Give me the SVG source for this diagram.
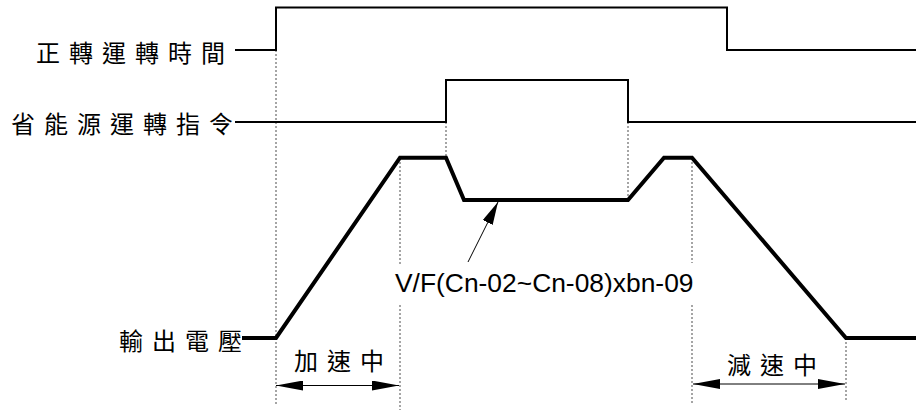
<svg xmlns="http://www.w3.org/2000/svg" width="916" height="410" viewBox="0 0 916 410">
<style>
.sig{fill:none;stroke:#000;stroke-width:2}
.vout{fill:none;stroke:#000;stroke-width:4;stroke-linejoin:miter}
.dot{fill:none;stroke:#888;stroke-width:1.5;stroke-dasharray:2,2}
.thin{fill:none;stroke:#000;stroke-width:1}
.cjk{font-family:"Noto Sans CJK TC","Noto Sans CJK SC",sans-serif;font-size:24px;font-weight:400;fill:#000;letter-spacing:9px}
.lat{font-family:"Liberation Sans",Arial,sans-serif;font-size:26.4px;fill:#000}
</style>
<defs>
<marker id="ah" viewBox="0 0 27 10" refX="27" refY="5" markerWidth="27" markerHeight="10" markerUnits="userSpaceOnUse" orient="auto-start-reverse">
<path d="M0,0 L27,5 L0,10 Z" fill="#000"/>
</marker>
<marker id="ah2" viewBox="0 0 23 11" refX="23" refY="5.5" markerWidth="23" markerHeight="11" markerUnits="userSpaceOnUse" orient="auto">
<path d="M0,0 L23,5.5 L0,11 Z" fill="#000"/>
</marker>
</defs>
<g id="guides">
<line class="dot" x1="276" y1="50" x2="276" y2="406"/>
<line class="dot" x1="400" y1="158" x2="400" y2="265"/>
<line class="dot" x1="400" y1="305" x2="400" y2="410"/>
<line class="dot" x1="446" y1="122" x2="446" y2="157"/>
<line class="dot" x1="628" y1="122" x2="628" y2="199"/>
<line class="dot" x1="692" y1="158" x2="692" y2="263"/>
<line class="dot" x1="692" y1="305" x2="692" y2="404"/>
<line class="dot" x1="846" y1="338" x2="846" y2="400"/>
</g>
<g id="node-run">
<text class="cjk" x="36" y="62">正轉運轉時間</text>
<path class="sig" d="M235,50 H276 V7.5 H727 V50 H916"/>
</g>
<g id="node-save">
<text class="cjk" x="11" y="133">省能源運轉指令</text>
<path class="sig" d="M235,122 H446 V80 H628 V122 H916"/>
</g>
<g id="node-vout">
<text class="cjk" x="119" y="350">輸出電壓</text>
<path class="vout" d="M242,338 H276 L400,157.7 H446 L464,200 H628 L664,157.7 H692 L846,338 H916"/>
</g>
<g id="node-vf">
<text class="lat" x="395" y="292">V/F(Cn-02~Cn-08)xbn-09</text>
</g>
<g id="node-acc">
<text class="cjk" x="294" y="370">加速中</text>
</g>
<g id="node-dec">
<text class="cjk" x="727" y="374">減速中</text>
</g>
<g id="connectors">
<line class="thin" x1="468" y1="262" x2="498" y2="202" marker-end="url(#ah2)"/>
<line class="thin" x1="276" y1="385.5" x2="399" y2="385.5" marker-start="url(#ah)" marker-end="url(#ah)"/>
<line class="thin" x1="693" y1="384" x2="845" y2="384" marker-start="url(#ah)" marker-end="url(#ah)"/>
</g>
</svg>
